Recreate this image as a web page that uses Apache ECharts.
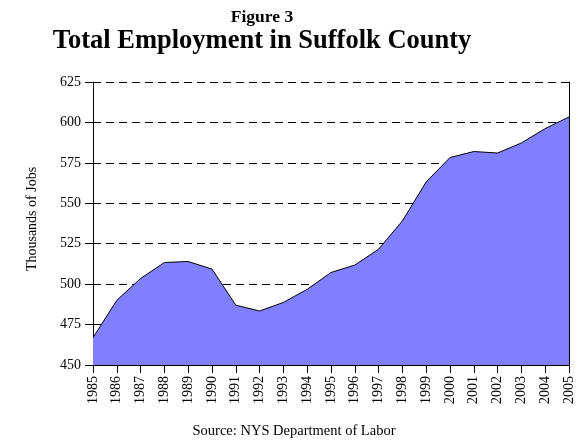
<!DOCTYPE html>
<html>
<head>
<meta charset="utf-8">
<script src="https://cdn.jsdelivr.net/npm/echarts@6/dist/echarts.min.js"></script>
<style>
  html, body { margin: 0; padding: 0; background: #fff; }
  #chart { width: 584px; height: 442px; }
</style>
</head>
<body>
<div id="chart"></div>
<script>
// Total employment in Suffolk County, thousands of jobs, 1985-2005
const years = ['1985','1986','1987','1988','1989','1990','1991','1992','1993','1994',
               '1995','1996','1997','1998','1999','2000','2001','2002','2003','2004','2005'];
const jobs = [466.9, 490.0, 503.5, 513.4, 514.0, 509.3, 487.0, 483.4, 488.7, 496.8,
              507.2, 511.8, 521.6, 539.1, 563.2, 578.3, 582.0, 581.1, 587.3, 596.2, 603.4];
const yTicks = { min: 450, max: 625, step: 25 };

const serif = '"Liberation Serif", "Times New Roman", Times, serif';

const chart = echarts.init(document.getElementById('chart'), null, { renderer: 'canvas' });

chart.setOption({
  backgroundColor: '#ffffff',
  animation: false,
  grid: { left: 93, right: 15, top: 82, bottom: 77 },
  graphic: [
    { type: 'text', left: null, x: 262, y: 17,
      style: { text: 'Figure 3', font: 'bold 17.5px ' + serif, fill: '#000',
               textAlign: 'center', textVerticalAlign: 'middle' } },
    { type: 'text', x: 262, y: 41,
      style: { text: 'Total Employment in Suffolk County', font: 'bold 26.5px ' + serif, fill: '#000',
               textAlign: 'center', textVerticalAlign: 'middle' } },
    { type: 'text', x: 32, y: 219, rotation: Math.PI / 2,
      style: { text: 'Thousands of Jobs', font: '14px ' + serif, fill: '#000',
               textAlign: 'center', textVerticalAlign: 'middle' } },
    { type: 'text', x: 294, y: 431,
      style: { text: 'Source: NYS Department of Labor', font: '14.5px ' + serif, fill: '#000',
               textAlign: 'center', textVerticalAlign: 'middle' } }
  ],
  xAxis: {
    type: 'category',
    data: years,
    boundaryGap: false,
    axisLine: { lineStyle: { color: '#000', width: 1 } },
    axisTick: { show: true, inside: false, length: 8, alignWithLabel: true,
                lineStyle: { color: '#000' } },
    axisLabel: { rotate: 90, interval: 0, margin: 11, color: '#000',
                 fontFamily: serif, fontSize: 14 },
    splitLine: { show: false }
  },
  yAxis: [
    {
      type: 'value',
      min: yTicks.min, max: yTicks.max, interval: yTicks.step,
      axisLine: { show: true, lineStyle: { color: '#000', width: 1 } },
      axisTick: { show: true, inside: false, length: 8, lineStyle: { color: '#000' } },
      axisLabel: { margin: 12, color: '#000', fontFamily: serif, fontSize: 14 },
      splitLine: { show: true, lineStyle: { color: '#000', type: [8, 5], width: 1 } }
    },
    {
      type: 'value',
      position: 'right',
      min: yTicks.min, max: yTicks.max, interval: yTicks.step,
      axisLine: { show: true, lineStyle: { color: '#000', width: 1 } },
      axisTick: { show: false },
      axisLabel: { show: false },
      splitLine: { show: false }
    }
  ],
  series: [
    {
      type: 'line',
      data: jobs,
      yAxisIndex: 0,
      showSymbol: false,
      symbol: 'none',
      lineStyle: { color: '#000', width: 1 },
      areaStyle: { color: '#8080ff', opacity: 1 },
      z: 3
    }
  ]
});
</script>
</body>
</html>
